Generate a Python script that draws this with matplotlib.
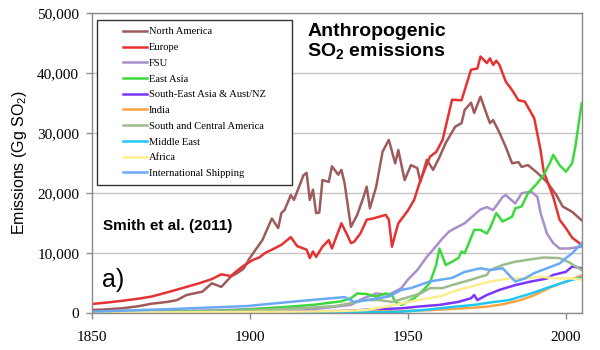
import matplotlib
matplotlib.use("Agg")
import matplotlib.pyplot as plt
from matplotlib.ticker import FuncFormatter, MultipleLocator
from matplotlib.patches import Rectangle

# ---- data (thousand Gg SO2) ----
na_years = [1850,1853,1860,1865,1869,1874,1877,1880,1885,1888,1891,1894,1896,1898,1900,1904,1907,1909,1910,1911,
            1913,1914,1917,1918,1919,1920,1921,1922,1923,1925,1926,1928,1929,1930,1932,1934,1936,1937,1938,1940,
            1942,1944,1946,1947,1949,1951,1953,1954,1956,1958,1960,1962,1965,1967,1968,1970,1971,1973,1975,1976,
            1977,1979,1981,1983,1985,1986,1988,1991,1994,1997,1999,2002,2005]
na_vals = [0.45,0.5,0.75,1.1,1.5,1.8,2.1,2.95,3.5,4.9,4.3,6.0,6.6,7.3,9.1,12.1,15.7,14.1,16.6,17.1,
           19.6,18.8,22.9,23.3,18.8,20.5,16.6,16.7,22.1,21.8,24.4,23.0,23.8,21.6,14.3,16.3,19.3,21.0,17.4,21.0,
           26.8,28.8,24.9,27.1,22.1,24.6,24.1,21.8,25.5,23.8,25.9,28.3,31.0,31.6,33.8,35.0,33.3,36.0,33.0,31.6,
           32.1,30.0,27.6,24.9,25.1,24.3,24.6,23.3,21.8,19.6,17.7,16.8,15.4]

eu_years = [1850,1855,1860,1865,1869,1874,1878,1880,1884,1888,1891,1894,1896,1898,1901,1903,1905,1907,1910,1913,
            1915,1918,1919,1920,1921,1923,1925,1926,1928,1929,1931,1932,1933,1935,1937,1939,1941,1943,1944,1945,
            1946,1947,1950,1952,1954,1957,1959,1961,1964,1967,1969,1970,1972,1973,1975,1976,1977,1978,1979,1981,
            1983,1985,1987,1990,1992,1993,1996,1998,2000,2002,2005]
eu_vals = [1.45,1.7,2.0,2.35,2.7,3.4,4.0,4.3,4.9,5.6,6.4,6.1,7.0,7.8,8.8,9.2,10.0,10.5,11.3,12.6,
           11.1,10.5,9.1,10.2,9.3,11.0,12.1,10.7,13.5,14.9,12.8,11.6,11.8,13.2,15.5,15.7,16.0,16.3,15.5,11.0,
           13.0,14.9,17.0,18.8,22.1,26.0,26.8,28.8,35.5,35.4,38.8,40.5,40.7,42.7,41.6,42.4,41.3,42.0,41.3,38.5,
           37.1,35.4,35.2,32.4,27.1,23.5,19.3,15.5,14.1,12.5,11.3]

fsu_years = [1850,1870,1890,1900,1910,1920,1927,1932,1936,1940,1944,1948,1950,1953,1956,1958,1961,1963,1965,1968,
             1971,1973,1975,1977,1980,1981,1984,1986,1989,1991,1992,1994,1996,1998,2001,2005]
fsu_vals = [0.1,0.2,0.4,0.6,0.9,0.6,1.0,1.3,2.4,3.2,3.0,4.1,5.5,7.1,9.3,10.5,12.4,13.5,14.1,14.9,
            16.3,17.2,17.6,17.1,19.3,19.6,18.2,19.9,20.2,19.3,16.6,13.2,11.6,10.7,10.7,11.0]

ea_years = [1850,1870,1890,1900,1910,1920,1929,1932,1934,1937,1940,1943,1945,1946,1948,1952,1955,1957,1959,1960,
            1962,1964,1966,1967,1968,1971,1973,1975,1976,1978,1980,1983,1984,1986,1988,1991,1993,1995,1996,1998,
            2000,2002,2003,2005]
ea_vals = [0.05,0.1,0.3,0.5,0.9,1.3,1.9,2.4,3.2,3.1,2.7,3.2,2.95,1.8,1.3,2.4,3.8,5.0,8.0,10.7,
           7.95,8.5,9.1,10.2,9.9,13.8,13.8,13.2,14.1,16.6,15.2,16.0,17.4,17.7,19.9,21.6,23.0,25.0,26.3,24.6,
           23.5,24.9,27.7,34.9]

sea_years = [1850,1900,1930,1940,1948,1953,1960,1966,1970,1971,1972,1975,1979,1984,1989,1994,1996,2000,2002,2005]
sea_vals = [0.0,0.1,0.3,0.57,0.73,1.0,1.3,1.8,2.4,2.95,2.1,2.95,3.8,4.6,5.2,5.7,6.3,6.8,7.7,7.4]

ind_years = [1850,1900,1930,1950,1960,1970,1975,1980,1985,1990,1995,2000,2005]
ind_vals = [0.0,0.05,0.1,0.3,0.5,0.8,1.0,1.4,2.0,2.9,4.2,5.2,6.2]

sca_years = [1850,1880,1900,1916,1927,1932,1937,1941,1945,1949,1954,1957,1961,1964,1970,1975,1976,1980,1984,1989,
             1993,1998,2001,2005]
sca_vals = [0.05,0.15,0.35,0.73,1.1,1.6,2.1,2.1,1.8,2.4,3.2,4.1,4.1,4.6,5.5,6.3,7.1,7.95,8.5,8.9,
            9.2,9.1,8.4,7.1]

me_years = [1850,1930,1940,1948,1955,1960,1965,1971,1976,1982,1989,1995,2002,2005]
me_vals = [0.0,0.02,0.08,0.17,0.45,0.73,1.0,1.3,1.7,2.1,3.2,4.3,5.5,5.8]

afr_years = [1850,1900,1920,1930,1937,1946,1953,1960,1966,1976,1982,1987,1992,1997,2002,2005]
afr_vals = [0.0,0.1,0.2,0.3,0.45,1.3,2.1,2.7,3.8,5.2,5.7,5.7,6.0,5.7,5.7,5.5]

shp_years = [1850,1875,1899,1916,1930,1933,1937,1944,1948,1951,1957,1964,1968,1973,1976,1980,1982,1984,1987,1990,
             1994,1998,2000,2002,2005]
shp_vals = [0.17,0.6,1.1,1.95,2.6,1.8,2.1,2.7,3.8,4.1,5.2,5.8,6.8,7.4,7.1,7.4,6.3,5.2,5.7,6.6,
            7.4,8.2,9.1,9.9,11.6]

labels = ["North America", "Europe", "FSU", "East Asia", "South-East Asia & Aust/NZ", "India",
          "South and Central America", "Middle East", "Africa", "International Shipping"]
series = [(na_years, na_vals), (eu_years, eu_vals), (fsu_years, fsu_vals), (ea_years, ea_vals),
          (sea_years, sea_vals), (ind_years, ind_vals), (sca_years, sca_vals), (me_years, me_vals),
          (afr_years, afr_vals), (shp_years, shp_vals)]
colors = ["#9e5b5b", "#e63232", "#a98fcb", "#3ed83e", "#7b35ff", "#ffa445",
          "#9dbb8d", "#1ec8f5", "#fbee8f", "#6aaaf5"]

x_ticks = [1850, 1900, 1950, 2000]

# ---- figure ----
plt.rcParams['mathtext.default'] = 'regular'
fig = plt.figure(figsize=(6, 3.5), dpi=100)
ax = fig.add_axes([0.1528, 0.1066, 0.8177, 0.8571])

for (yrs, vals), c, lab in zip(series, colors, labels):
    ax.plot(yrs, [v * 1000 for v in vals], color=c, lw=1.8, label=lab, solid_joinstyle='round')

ax.set_xlim(1850, 2005.2)
ax.set_ylim(0, 50000)
ax.set_xticks(x_ticks)
ax.yaxis.set_major_locator(MultipleLocator(10000))
ax.yaxis.set_major_formatter(FuncFormatter(lambda v, p: f"{int(v):,}"))
ax.grid(axis='y', color='#c4c4c4', lw=1.0)
ax.set_axisbelow(True)
for s in ax.spines.values():
    s.set_color('#8a8a8a')
    s.set_linewidth(1.0)
ax.tick_params(axis='both', colors='#8a8a8a', length=4, width=1.0, direction='out',
               labelcolor='black', labelsize=11)
ax.tick_params(axis='x', pad=9)
ax.tick_params(axis='y', pad=5)
for lbl in ax.get_xticklabels() + ax.get_yticklabels():
    lbl.set_family('Liberation Serif')

ax.set_ylabel("Emissions (Gg SO$_2$)", family='Liberation Sans', fontsize=11.5, labelpad=6)

# legend box
ax.add_patch(Rectangle((0.0108, 0.426), 0.3975, 0.55, transform=ax.transAxes,
                       facecolor='white', edgecolor='#333333', lw=1.0, zorder=4))
leg = ax.legend(loc='upper left', bbox_to_anchor=(0.0638, 0.952), frameon=False,
                prop={'family': 'Liberation Serif', 'size': 7.6}, handlelength=2.3,
                handletextpad=0.15, labelspacing=0.6, borderpad=0, borderaxespad=0)
leg.set_zorder(5)

ax.text(0.439, 0.966, "Anthropogenic\nSO$_2$ emissions", transform=ax.transAxes,
        family='Liberation Sans', fontweight='bold', fontsize=14, va='top', ha='left',
        linespacing=1.05)
ax.text(0.023, 0.288, "Smith et al. (2011)", transform=ax.transAxes,
        family='Liberation Sans', fontweight='bold', fontsize=11, va='center', ha='left')
ax.text(0.021, 0.108, "a)", transform=ax.transAxes,
        family='Liberation Sans', fontsize=18, va='center', ha='left')

fig.savefig("out.png", dpi=100)
